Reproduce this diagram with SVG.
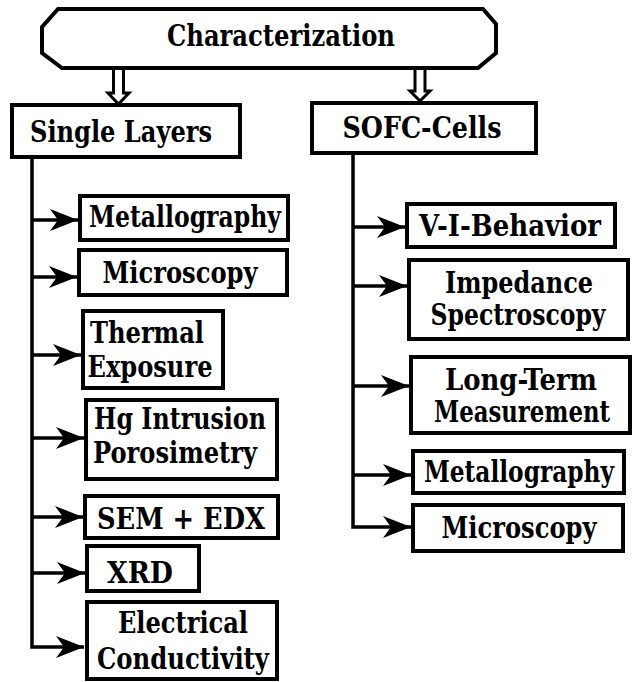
<svg xmlns="http://www.w3.org/2000/svg" width="633" height="682" viewBox="0 0 633 682">
<style>
.box{fill:#fff;stroke:#000;stroke-width:4}
.t{font-family:"DejaVu Serif Condensed","DejaVu Serif","Liberation Serif",serif;font-stretch:condensed;font-weight:bold;font-size:29px;fill:#000;text-anchor:middle}
.ln{fill:none;stroke:#000;stroke-width:3.5}
.dbl{fill:#fff;stroke:#000;stroke-width:3;stroke-linejoin:miter}
</style>
<defs>
<marker id="ah" markerUnits="userSpaceOnUse" markerWidth="30" markerHeight="24" refX="28" refY="12" orient="auto">
<path d="M0,1 L28,12 L0,23 L8,12 Z" fill="#000"/>
</marker>
</defs>
<rect width="633" height="682" fill="#fff"/>
<g id="connectors">
<path class="dbl" d="M113.5,70 L113.5,93 L108,93 L118.5,104 L129,93 L123.5,93 L123.5,70"/>
<path class="dbl" d="M415,70 L415,91 L410,91 L420,101 L430,91 L425,91 L425,70"/>
<path class="ln" d="M32,157 L32,647 L84,647" marker-end="url(#ah)"/>
<path class="ln" d="M32,220 L78,220" marker-end="url(#ah)"/>
<path class="ln" d="M32,277 L77,277" marker-end="url(#ah)"/>
<path class="ln" d="M32,355 L81,355" marker-end="url(#ah)"/>
<path class="ln" d="M32,438 L84,438" marker-end="url(#ah)"/>
<path class="ln" d="M32,517 L83,517" marker-end="url(#ah)"/>
<path class="ln" d="M32,573 L85,573" marker-end="url(#ah)"/>
<path class="ln" d="M353,153 L353,527 L411,527" marker-end="url(#ah)"/>
<path class="ln" d="M353,227 L405,227" marker-end="url(#ah)"/>
<path class="ln" d="M353,286 L407,286" marker-end="url(#ah)"/>
<path class="ln" d="M353,386 L409,386" marker-end="url(#ah)"/>
<path class="ln" d="M353,475 L411,475" marker-end="url(#ah)"/>
</g>
<g id="characterization">
<path class="box" d="M58,9 L483,9 L496,24 L496,53 L478,68 L62,68 L42,53 L42,27 Z"/>
<text class="t" x="281" y="46" textLength="228" lengthAdjust="spacingAndGlyphs">Characterization</text>
</g>
<g id="single-layers">
<rect class="box" x="12" y="105" width="228" height="52"/>
<text class="t" x="121" y="142" textLength="182" lengthAdjust="spacingAndGlyphs">Single Layers</text>
</g>
<g id="sofc-cells">
<rect class="box" x="312" y="103" width="224" height="50"/>
<text class="t" x="422" y="138" textLength="159" lengthAdjust="spacingAndGlyphs">SOFC-Cells</text>
</g>
<g id="l-metallography">
<rect class="box" x="80" y="196" width="208" height="44"/>
<text class="t" x="185" y="227" textLength="192" lengthAdjust="spacingAndGlyphs">Metallography</text>
</g>
<g id="l-microscopy">
<rect class="box" x="79" y="250" width="208" height="45"/>
<text class="t" x="180" y="283" textLength="155" lengthAdjust="spacingAndGlyphs">Microscopy</text>
</g>
<g id="thermal-exposure">
<rect class="box" x="83" y="311" width="140" height="77"/>
<text class="t" x="147" y="343" textLength="114" lengthAdjust="spacingAndGlyphs">Thermal</text>
<text class="t" x="150" y="377" textLength="125" lengthAdjust="spacingAndGlyphs">Exposure</text>
</g>
<g id="hg-intrusion">
<rect class="box" x="86" y="400" width="191" height="79"/>
<text class="t" x="180" y="429" textLength="172" lengthAdjust="spacingAndGlyphs">Hg Intrusion</text>
<text class="t" x="175" y="463" textLength="164" lengthAdjust="spacingAndGlyphs">Porosimetry</text>
</g>
<g id="sem-edx">
<rect class="box" x="85" y="496" width="193" height="42"/>
<text class="t" x="181" y="529" textLength="168" lengthAdjust="spacingAndGlyphs">SEM + EDX</text>
</g>
<g id="xrd">
<rect class="box" x="87" y="546" width="112" height="45"/>
<text class="t" x="140" y="583" textLength="66" lengthAdjust="spacingAndGlyphs">XRD</text>
</g>
<g id="electrical-conductivity">
<rect class="box" x="87" y="602" width="190" height="77"/>
<text class="t" x="183" y="633" textLength="130" lengthAdjust="spacingAndGlyphs">Electrical</text>
<text class="t" x="183" y="669" textLength="172" lengthAdjust="spacingAndGlyphs">Conductivity</text>
</g>
<g id="v-i-behavior">
<rect class="box" x="407" y="204" width="208" height="43"/>
<text class="t" x="510" y="236" textLength="182" lengthAdjust="spacingAndGlyphs">V-I-Behavior</text>
</g>
<g id="impedance">
<rect class="box" x="409" y="260" width="219" height="79"/>
<text class="t" x="519" y="293" textLength="148" lengthAdjust="spacingAndGlyphs">Impedance</text>
<text class="t" x="518" y="325" textLength="175" lengthAdjust="spacingAndGlyphs">Spectroscopy</text>
</g>
<g id="long-term">
<rect class="box" x="411" y="357" width="219" height="76"/>
<text class="t" x="521" y="390" textLength="152" lengthAdjust="spacingAndGlyphs">Long-Term</text>
<text class="t" x="522" y="422" textLength="176" lengthAdjust="spacingAndGlyphs">Measurement</text>
</g>
<g id="r-metallography">
<rect class="box" x="413" y="451" width="211" height="42"/>
<text class="t" x="519" y="482" textLength="190" lengthAdjust="spacingAndGlyphs">Metallography</text>
</g>
<g id="r-microscopy">
<rect class="box" x="413" y="505" width="210" height="46"/>
<text class="t" x="519" y="538" textLength="155" lengthAdjust="spacingAndGlyphs">Microscopy</text>
</g>
</svg>
